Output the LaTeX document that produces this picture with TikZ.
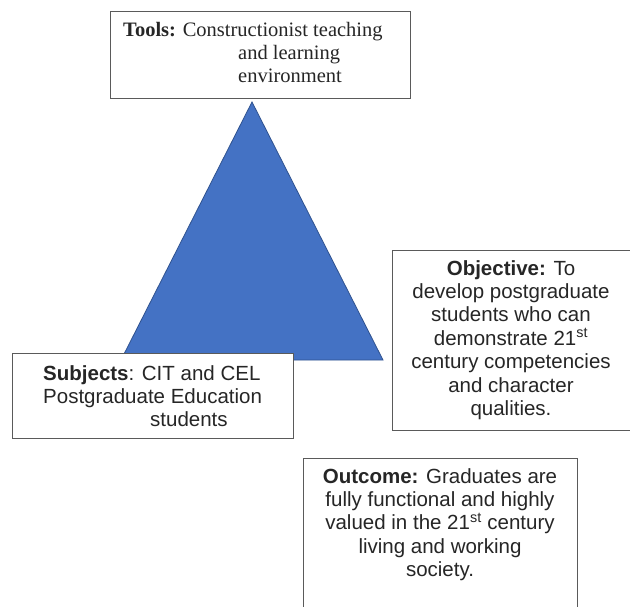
\documentclass[tikz,border=0pt]{standalone}
\usepackage{fontspec}
\setmainfont{Liberation Serif}
\setsansfont{Liberation Sans}
\definecolor{triblue}{HTML}{4472C4}
\definecolor{triedge}{HTML}{2F528F}
\definecolor{boxline}{HTML}{5A5A5A}
\definecolor{txt}{HTML}{262626}
\tikzset{
  frame/.style={draw=boxline, line width=1.3pt, fill=white, inner sep=0pt, anchor=north west},
  sanstext/.style={inner sep=0pt, text=txt, font={\fontsize{20.5}{23.4}\selectfont\sffamily}},
  seriftext/.style={inner sep=0pt, text=txt, font={\fontsize{20.5}{23.2}\selectfont\rmfamily}}
}
\begin{document}
\begin{tikzpicture}[x=1pt,y=-1pt]
\clip (0,0) rectangle (630,607);
\fill[white] (0,0) rectangle (630,607);
% triangle
\coordinate (apex) at (252,102);
\coordinate (bl) at (121,360);
\coordinate (br) at (383,360);
\fill[triblue, draw=triedge, line width=0.8pt] (apex) -- (br) -- (bl) -- cycle;
% tools
\node[frame, minimum width=300pt, minimum height=87pt] (toolsbox) at (110,11) {};
\node[seriftext, anchor=north west, align=left] (tools) at (123,22)
  {\textbf{Tools:} Constructionist teaching\\\hspace*{115pt}and learning\\\hspace*{115pt}environment};
% subjects
\node[frame, minimum width=281pt, minimum height=85pt] (subjbox) at (12,353) {};
\node[sanstext, anchor=north west, align=left] (subj) at (43,365)
  {\textbf{Subjects}: CIT and CEL\\Postgraduate Education\\\hspace*{107pt}students};
% objective
\node[frame, minimum width=250pt, minimum height=180pt] (objbox) at (392,250) {};
\node[sanstext, anchor=north, align=center] (obj) at (511,260)
  {\textbf{Objective:} To\\develop postgraduate\\students who can\\demonstrate 21\textsuperscript{st}\\century competencies\\and character\\qualities.};
% outcome
\node[frame, minimum width=274pt, minimum height=170pt] (outbox) at (303,458) {};
\node[sanstext, anchor=north, align=center] (out) at (440,468)
  {\textbf{Outcome:} Graduates are\\fully functional and highly\\valued in the 21\textsuperscript{st} century\\living and working\\society.};
\end{tikzpicture}
\end{document}
